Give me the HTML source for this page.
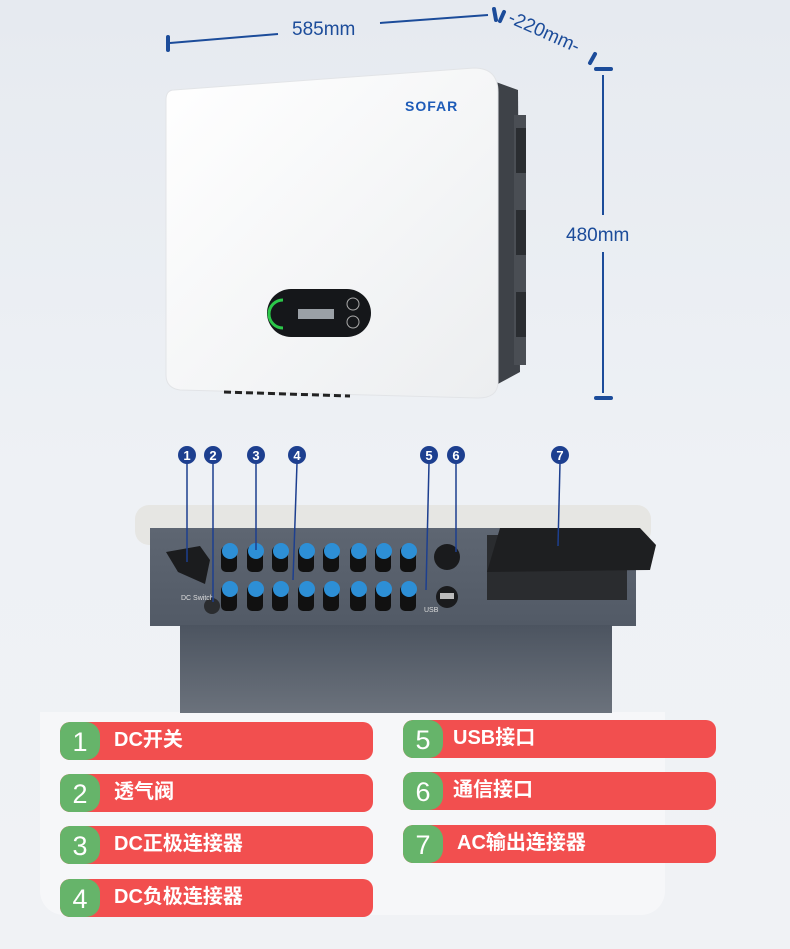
<!DOCTYPE html>
<html><head><meta charset="utf-8"><style>
body{margin:0;width:790px;height:949px;overflow:hidden;background:linear-gradient(180deg,#e6eaf0 0%,#eef1f5 50%,#f0f2f5 100%);font-family:"Liberation Sans","Noto Sans CJK SC",sans-serif}
.lb{position:absolute;height:38px;border-radius:10px;background:#f24f4f;overflow:hidden}
.lb .n{position:absolute;left:0;top:0;width:40px;height:38px;background:#66b46a;border-radius:10px 14px 14px 10px;color:#fff;font-size:27px;text-align:center;line-height:40px}
.lb .t{position:absolute;left:54px;top:1px;line-height:34px;color:#fff;font-weight:bold;font-size:20px;font-family:"Liberation Sans","Noto Sans CJK SC",sans-serif}
</style></head><body>
<div style="position:absolute;left:40px;top:712px;width:625px;height:203px;background:#f6f7f9;border-radius:0 0 24px 24px"></div>
<svg width="790" height="949" style="position:absolute;left:0;top:0">
<defs>
<linearGradient id="fr" x1="0" y1="0" x2="1" y2="1"><stop offset="0" stop-color="#ffffff"/><stop offset="1" stop-color="#eceef0"/></linearGradient>
<linearGradient id="pn" x1="0" y1="0" x2="0" y2="1"><stop offset="0" stop-color="#5e6672"/><stop offset="1" stop-color="#525a66"/></linearGradient>
<linearGradient id="bx" x1="0" y1="0" x2="0" y2="1"><stop offset="0" stop-color="#4c5460"/><stop offset="1" stop-color="#6b727c"/></linearGradient>
</defs>
<g stroke="#1c4c9a" stroke-width="2" fill="none">
<line x1="170" y1="43" x2="278" y2="34"/><line x1="380" y1="23" x2="488" y2="15"/>
<line x1="603" y1="75" x2="603" y2="215"/><line x1="603" y1="252" x2="603" y2="393"/>
</g>
<g stroke="#1c4c9a" stroke-width="4" stroke-linecap="round">
<line x1="168" y1="37" x2="168" y2="50"/><line x1="494" y1="9" x2="496" y2="20"/><line x1="500" y1="21" x2="504" y2="12"/>
<line x1="590" y1="63" x2="595" y2="54"/><line x1="596" y1="69" x2="611" y2="69"/><line x1="596" y1="398" x2="611" y2="398"/>
</g>
<text x="292" y="35" font-size="19" fill="#1c4c9a" font-family="Liberation Sans">585mm</text>
<text x="507" y="22" font-size="19" fill="#1c4c9a" transform="rotate(24 507 22)" font-family="Liberation Sans">-220mm-</text>
<text x="566" y="241" font-size="19" fill="#1c4c9a" font-family="Liberation Sans">480mm</text>
<path d="M496 82 L518 90 L520 372 L496 385 Z" fill="#3e4248"/>
<rect x="514" y="115" width="12" height="250" fill="#4a4e54"/>
<g fill="#2a2d31"><rect x="516" y="128" width="10" height="45"/><rect x="516" y="210" width="10" height="45"/><rect x="516" y="292" width="10" height="45"/></g>
<path d="M174 90 Q166 90 166 100 L166 375 Q166 388 180 390 L478 398 Q498 398 498 382 L498 92 Q498 68 474 68 Z" fill="url(#fr)" stroke="#e2e4e7"/>
<g stroke="#222" stroke-width="3" stroke-dasharray="7 4"><line x1="224" y1="392" x2="350" y2="396"/></g>
<text x="405" y="111" font-size="14" font-weight="bold" fill="#1d5bb8" font-family="Liberation Sans" letter-spacing="1">SOFAR</text>
<rect x="267" y="289" width="104" height="48" rx="24" fill="#15171a"/>
<path d="M283 300 A14 14 0 0 0 283 328" stroke="#2cc84a" stroke-width="3" fill="none"/>
<rect x="298" y="309" width="36" height="10" fill="#9aa0a6"/>
<circle cx="353" cy="304" r="6" stroke="#aaa" fill="none"/><circle cx="353" cy="322" r="6" stroke="#aaa" fill="none"/>
<rect x="135" y="505" width="516" height="40" rx="14" fill="#e6e6e3"/>
<rect x="150" y="528" width="486" height="98" fill="url(#pn)"/>
<rect x="180" y="625" width="432" height="88" fill="url(#bx)"/>
<path d="M166 552 L200 546 L210 560 L205 584 L178 572 Z" fill="#1b1c1e"/>
<circle cx="212" cy="606" r="8" fill="#2a2c2f"/>
<text x="181" y="600" font-size="7" fill="#ddd">DC Switch</text>
<g>
<g fill="#111"><rect x="221" y="546" width="16" height="26" rx="5"/><rect x="247" y="546" width="16" height="26" rx="5"/><rect x="272" y="546" width="16" height="26" rx="5"/><rect x="298" y="546" width="16" height="26" rx="5"/><rect x="323" y="546" width="16" height="26" rx="5"/><rect x="350" y="546" width="16" height="26" rx="5"/><rect x="375" y="546" width="16" height="26" rx="5"/><rect x="400" y="546" width="16" height="26" rx="5"/>
<rect x="221" y="585" width="16" height="26" rx="5"/><rect x="247" y="585" width="16" height="26" rx="5"/><rect x="272" y="585" width="16" height="26" rx="5"/><rect x="298" y="585" width="16" height="26" rx="5"/><rect x="323" y="585" width="16" height="26" rx="5"/><rect x="350" y="585" width="16" height="26" rx="5"/><rect x="375" y="585" width="16" height="26" rx="5"/><rect x="400" y="585" width="16" height="26" rx="5"/></g>
<g fill="#2d8fd6"><circle cx="230" cy="551" r="8"/><circle cx="256" cy="551" r="8"/><circle cx="281" cy="551" r="8"/><circle cx="307" cy="551" r="8"/><circle cx="332" cy="551" r="8"/><circle cx="359" cy="551" r="8"/><circle cx="384" cy="551" r="8"/><circle cx="409" cy="551" r="8"/>
<circle cx="230" cy="589" r="8"/><circle cx="256" cy="589" r="8"/><circle cx="281" cy="589" r="8"/><circle cx="307" cy="589" r="8"/><circle cx="332" cy="589" r="8"/><circle cx="359" cy="589" r="8"/><circle cx="384" cy="589" r="8"/><circle cx="409" cy="589" r="8"/></g>
</g>
<circle cx="447" cy="557" r="13" fill="#1a1b1d"/><circle cx="447" cy="597" r="11" fill="#1a1b1d"/><rect x="440" y="593" width="14" height="6" fill="#bbb"/>
<text x="424" y="612" font-size="7" fill="#ddd">USB</text>
<rect x="487" y="535" width="140" height="65" fill="#2a2c2f"/>
<path d="M500 528 L640 528 L656 545 L650 570 L487 572 Z" fill="#1e1f21"/>
<g stroke="#1d3f8f" stroke-width="1.5"><line x1="187" y1="463" x2="187" y2="562"/><line x1="213" y1="463" x2="213" y2="602"/><line x1="256" y1="463" x2="256" y2="550"/><line x1="297" y1="463" x2="293" y2="580"/><line x1="429" y1="463" x2="426" y2="590"/><line x1="456" y1="463" x2="456" y2="552"/><line x1="560" y1="463" x2="558" y2="546"/></g>
<g fill="#1d3f8f"><circle cx="187" cy="455" r="9"/><circle cx="213" cy="455" r="9"/><circle cx="256" cy="455" r="9"/><circle cx="297" cy="455" r="9"/><circle cx="429" cy="455" r="9"/><circle cx="456" cy="455" r="9"/><circle cx="560" cy="455" r="9"/></g>
<g fill="#fff" font-size="13" font-weight="bold" text-anchor="middle" font-family="Liberation Sans"><text x="187" y="460">1</text><text x="213" y="460">2</text><text x="256" y="460">3</text><text x="297" y="460">4</text><text x="429" y="460">5</text><text x="456" y="460">6</text><text x="560" y="460">7</text></g>
</svg>
<div class="lb" style="left:60px;top:722px;width:313px"><div class="n">1</div><div class="t">DC开关</div></div>
<div class="lb" style="left:60px;top:774px;width:313px"><div class="n">2</div><div class="t">透气阀</div></div>
<div class="lb" style="left:60px;top:826px;width:313px"><div class="n">3</div><div class="t">DC正极连接器</div></div>
<div class="lb" style="left:60px;top:879px;width:313px"><div class="n">4</div><div class="t">DC负极连接器</div></div>
<div class="lb" style="left:403px;top:720px;width:313px"><div class="n">5</div><div class="t" style="left:50px">USB接口</div></div>
<div class="lb" style="left:403px;top:772px;width:313px"><div class="n">6</div><div class="t" style="left:50px">通信接口</div></div>
<div class="lb" style="left:403px;top:825px;width:313px"><div class="n">7</div><div class="t" style="left:54px">AC输出连接器</div></div>
</body></html>
